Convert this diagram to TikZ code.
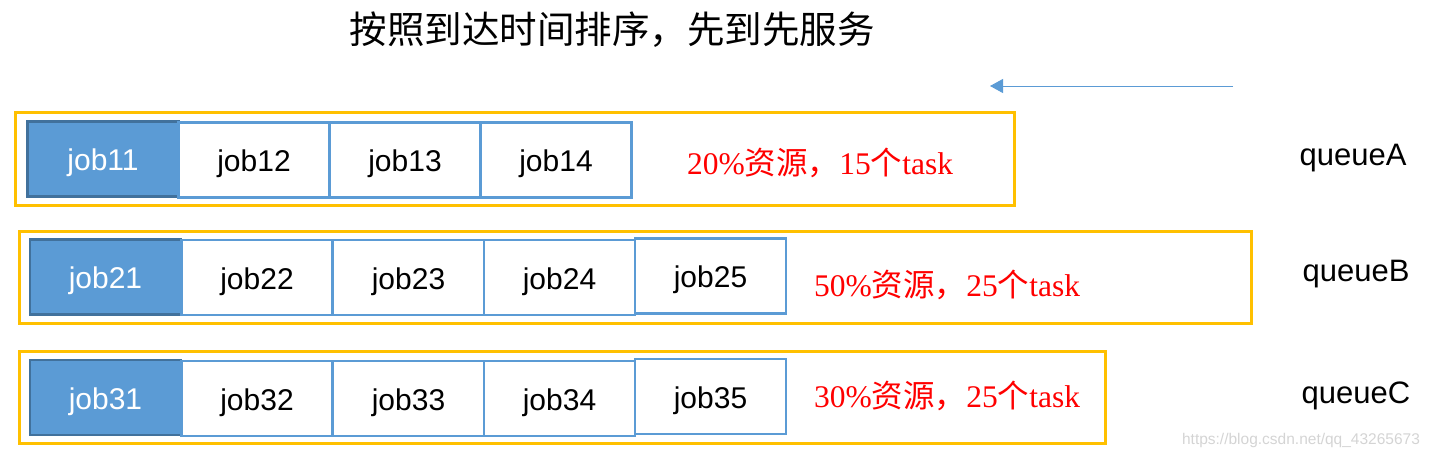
\documentclass[tikz,border=0pt]{standalone}
\usepackage{fontspec}
\setmainfont{Liberation Sans}
\newfontfamily\cjk{Noto Sans CJK SC}
\newfontfamily\serifl{Liberation Serif}
\usetikzlibrary{arrows.meta}
\definecolor{jobblue}{HTML}{5B9BD5}
\definecolor{jobdark}{HTML}{41719C}
\definecolor{qorange}{HTML}{FFC000}
\definecolor{resred}{HTML}{FF0000}
\definecolor{wmgray}{HTML}{D4D4D4}
\tikzset{
  x=1pt, y=-1pt,
  jobbox/.style={draw=jobblue, line width=2.6pt, fill=white, minimum width=151pt, minimum height=75pt, inner sep=0pt, text height=28pt, text depth=5pt, font=\fontsize{30}{34}\selectfont},
  firstjob/.style={jobbox, draw=jobdark, fill=jobblue, text=white},
  qbox/.style={draw=qorange, line width=3pt, inner sep=0pt},
  qlabel/.style={font=\fontsize{31}{34}\selectfont, inner sep=0pt},
  reslabel/.style={text=resred, inner sep=0pt, font=\fontsize{31.5}{34}\selectfont},
}
\newcommand{\resline}[2]{{\serifl #1\%}{\cjk 资源，}{\serifl #2}{\cjk 个}{\serifl task}}
\begin{document}
\begin{tikzpicture}
\useasboundingbox (0,0) rectangle (1432,459);
% title
\node[inner sep=0pt, font=\cjk\fontsize{37.5}{40}\selectfont] (title) at (612,30) {按照到达时间排序，先到先服务};
% arrow
\coordinate (arrS) at (1233,86);
\coordinate (arrE) at (990,86);
\draw[jobblue, line width=1pt, -{Triangle[length=13pt,width=14pt]}] (arrS) -- (arrE);
% queue boxes
\node[qbox, minimum width=999pt, minimum height=93pt] (qa) at (514.5,158.5) {};
\node[qbox, minimum width=1232pt, minimum height=92pt] (qb) at (635,277) {};
\node[qbox, minimum width=1086pt, minimum height=92pt] (qc) at (562,397) {};
% queue A
\node[firstjob] (j11) at (103,159) {job11};
\node[jobbox] (j12) at (254,160) {job12};
\node[jobbox] (j13) at (405,160) {job13};
\node[jobbox] (j14) at (556,160) {job14};
\node[reslabel] (ra) at (820,163) {\resline{20}{15}};
% queue B
\node[firstjob] (j21) at (105.5,277) {job21};
\node[jobbox] (j22) at (257,277.5) {job22};
\node[jobbox] (j23) at (408.5,277.5) {job23};
\node[jobbox] (j24) at (559.5,277.5) {job24};
\node[jobbox] (j25) at (710.5,276) {job25};
\node[reslabel] (rb) at (947,285) {\resline{50}{25}};
% queue C
\node[firstjob] (j31) at (105.5,397.5) {job31};
\node[jobbox] (j32) at (257,398.5) {job32};
\node[jobbox] (j33) at (408.5,398.5) {job33};
\node[jobbox] (j34) at (559.5,398.5) {job34};
\node[jobbox] (j35) at (710.5,396.5) {job35};
\node[reslabel] (rc) at (947,396) {\resline{30}{25}};
% queue labels
\node[qlabel] (la) at (1353,158) {queueA};
\node[qlabel] (lb) at (1356,274) {queueB};
\node[qlabel] (lc) at (1356,396) {queueC};
% watermark
\node[inner sep=0pt, text=wmgray, font=\fontsize{15.5}{17}\selectfont] (wm) at (1301,440) {https://blog.csdn.net/qq\_43265673};
\end{tikzpicture}
\end{document}
